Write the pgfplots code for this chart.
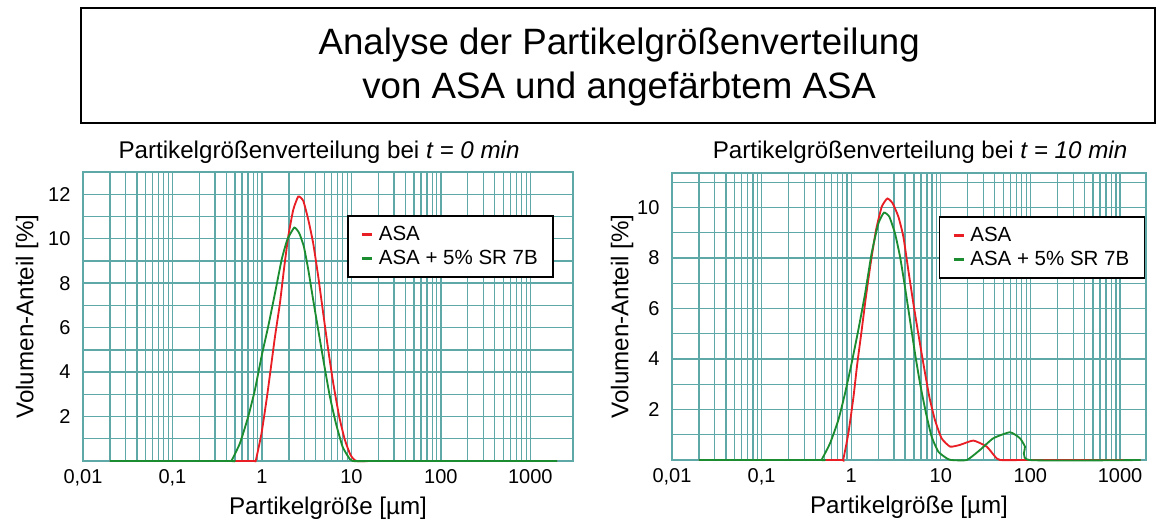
\documentclass[border=0pt]{standalone}
\usepackage{fontspec}
\setmainfont{Liberation Sans}
\usepackage{pgfplots}
\pgfplotsset{compat=1.18}

\definecolor{gridteal}{RGB}{95,168,168}
\definecolor{asared}{RGB}{232,30,36}
\definecolor{asagreen}{RGB}{28,140,48}

\begin{document}
\begin{tikzpicture}
\useasboundingbox (0,0) rectangle (693.6pt,313.8pt);

% title box
\draw[line width=1.2pt] (48.6pt,240pt) rectangle (693pt,309pt);
\node[font=\fontsize{22}{26}\selectfont] at (371.5pt,286.8pt) {Analyse der Partikelgrößenverteilung};
\node[font=\fontsize{22}{26}\selectfont] at (371.5pt,260.5pt) {von ASA und angefärbtem ASA};

% subplot titles
\node[font=\fontsize{14.5}{17}\selectfont] at (191.4pt,222.6pt) {Partikelgrößenverteilung bei \textit{t = 0 min}};
\node[font=\fontsize{14.5}{17}\selectfont] at (552pt,222.6pt) {Partikelgrößenverteilung bei \textit{t = 10 min}};

% t = 0 min
\begin{axis}[
  xmode=log, scale only axis, anchor=south west,
  at={(49.8pt,37.2pt)},
  width=294pt, height=173.4pt,
  xmin=0.01, xmax=3000, ymin=0, ymax=13,
  xtick={0.01,0.1,1,10,100,1000},
  xticklabels={{0,01},{0,1},1,10,100,1000},
  ytick={2,4,6,8,10,12}, minor ytick={1,3,5,7,9,11},
  xmajorgrids, xminorgrids, ymajorgrids, yminorgrids,
  major grid style={gridteal, line width=0.8pt},
  minor grid style={gridteal, line width=0.8pt},
  axis line style={gridteal, line width=0.8pt},
  major tick length=0pt, minor tick length=0pt,
  tick label style={font=\fontsize{12}{14}\selectfont},
  /pgf/number format/assume math mode=true,
  xticklabel style={yshift=-1.5pt},
  yticklabel style={xshift=-4pt},
  xlabel={Partikelgröße [µm]},
  ylabel={Volumen-Anteil [\%]},
  label style={font=\fontsize{14.5}{17}\selectfont},
  xlabel style={at={(axis description cs:0.5,-0.165)}, anchor=center},
  ylabel style={at={(axis description cs:-0.114,0.5)}, anchor=center},
  clip=false,
  legend cell align=left,
  legend style={at={(0.539,0.851)}, anchor=north west, draw=black, line width=0.9pt,
    font=\fontsize{12.3}{13}\selectfont, inner xsep=7pt, inner ysep=4pt, row sep=0.5pt},
  legend image code/.code={\path (0pt,0pt) (8.5pt,0pt); \draw[line width=1.6pt] (1pt,0pt) -- (7pt,0pt);},
]
\addplot[asared, line width=1.1pt, smooth, tension=0.3] coordinates {
  (0.02,0) (0.5,0) (0.82,0) (0.857,0.05) (0.99,1.25) (1.14,2.9) (1.25,4.1) (1.40,5.6)
  (1.59,7.1) (1.76,8.6) (1.97,10.1) (2.24,11.3) (2.55,11.9) (2.90,11.7)
  (3.30,10.85) (3.74,9.8) (4.26,8.3) (4.84,6.65) (5.51,5.0) (6.27,3.5)
  (7.31,2.0) (8.45,0.95) (9.79,0.27) (11.4,0) (20,0) (2000,0)
};
\addlegendentry{ASA}
\addplot[asagreen, line width=1.1pt, smooth, tension=0.3] coordinates {
  (0.02,0) (0.44,0) (0.458,0.02) (0.568,0.8) (0.703,2.0) (0.835,3.2) (0.99,4.7)
  (1.175,6.05) (1.40,7.55) (1.66,9.05) (1.92,9.95) (2.30,10.5) (2.61,10.25)
  (2.94,9.65) (3.30,8.6) (3.74,7.25) (4.26,5.9) (4.93,4.4) (5.75,2.9)
  (6.71,1.7) (7.96,0.65) (9.2,0.2) (10.3,0) (20,0) (2000,0)
};
\addlegendentry{ASA + 5\% SR 7B}
\end{axis}

% t = 10 min
\begin{axis}[
  xmode=log, scale only axis, anchor=south west,
  at={(403.2pt,37.8pt)},
  width=284.4pt, height=172.2pt,
  xmin=0.01, xmax=1950, ymin=0, ymax=11.37,
  xtick={0.01,0.1,1,10,100,1000},
  xticklabels={{0,01},{0,1},1,10,100,1000},
  ytick={2,4,6,8,10}, minor ytick={1,3,5,7,9,11},
  xmajorgrids, xminorgrids, ymajorgrids, yminorgrids,
  major grid style={gridteal, line width=0.8pt},
  minor grid style={gridteal, line width=0.8pt},
  axis line style={gridteal, line width=0.8pt},
  major tick length=0pt, minor tick length=0pt,
  tick label style={font=\fontsize{12}{14}\selectfont},
  /pgf/number format/assume math mode=true,
  xticklabel style={yshift=-1.5pt},
  yticklabel style={xshift=-4pt},
  xlabel={Partikelgröße [µm]},
  ylabel={Volumen-Anteil [\%]},
  label style={font=\fontsize{14.5}{17}\selectfont},
  xlabel style={at={(axis description cs:0.5,-0.165)}, anchor=center},
  ylabel style={at={(axis description cs:-0.105,0.5)}, anchor=center},
  clip=false,
  legend cell align=left,
  legend style={at={(0.998,0.85)}, anchor=north east, draw=black, line width=0.9pt,
    font=\fontsize{12.3}{13}\selectfont, inner xsep=7pt, inner ysep=4pt, row sep=0.5pt},
  legend image code/.code={\path (0pt,0pt) (8.5pt,0pt); \draw[line width=1.6pt] (1pt,0pt) -- (7pt,0pt);},
]
\addplot[asared, line width=1.1pt, smooth, tension=0.3] coordinates {
  (0.02,0) (0.5,0) (0.8,0) (0.817,0.03) (0.93,1.06) (1.06,2.5) (1.17,3.83) (1.31,5.15)
  (1.46,6.47) (1.65,7.8) (1.89,9.1) (2.19,10.03) (2.53,10.36) (2.90,10.17)
  (3.36,9.64) (3.82,8.85) (4.34,7.52) (4.94,6.2) (5.61,5.0) (6.38,3.83)
  (7.45,2.5) (8.61,1.58) (10.2,0.86) (12.7,0.53) (16.4,0.6) (23.1,0.77)
  (32.5,0.53) (40,0.15) (45.8,0) (100,0) (1700,0)
};
\addlegendentry{ASA}
\addplot[asagreen, line width=1.1pt, smooth, tension=0.3] coordinates {
  (0.02,0) (0.45,0) (0.469,0.02) (0.58,0.66) (0.718,1.58) (0.853,2.64) (1.01,3.83)
  (1.20,5.15) (1.43,6.6) (1.69,8.19) (2.01,9.37) (2.32,9.8) (2.66,9.64)
  (3.08,8.98) (3.51,8.05) (3.98,6.86) (4.53,5.54) (5.15,4.23) (5.86,3.04)
  (6.84,1.85) (7.91,0.92) (9.38,0.33) (11.6,0.07) (13,0) (19.5,0) (27.4,0.4)
  (38.5,0.86) (59.2,1.1) (76.5,0.86) (87,0.53) (97.3,0) (1700,0)
};
\addlegendentry{ASA + 5\% SR 7B}
\end{axis}
\end{tikzpicture}
\end{document}
